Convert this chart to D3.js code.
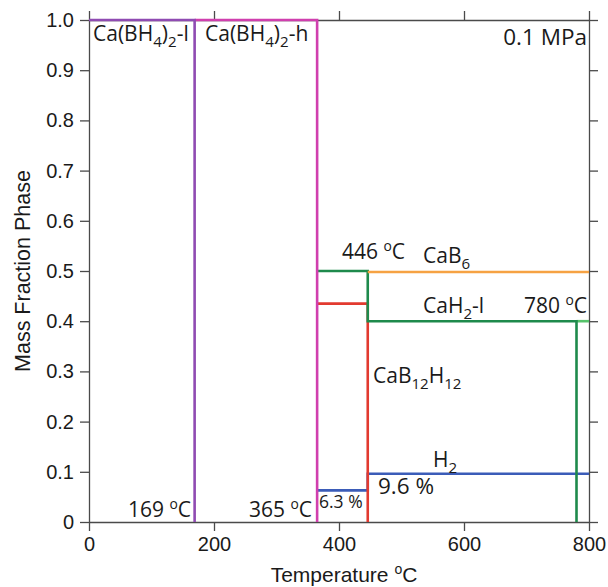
<!DOCTYPE html>
<html>
<head>
<meta charset="utf-8">
<script src="https://cdn.jsdelivr.net/npm/d3@7"></script>
<style>
  html, body { margin: 0; padding: 0; background: #fff; }
  svg { display: block; }
</style>
</head>
<body>
<svg id="chart" width="608" height="587"></svg>
<script>
// ---------------- data ----------------
const tempTicks = [0, 200, 400, 600, 800];
const fracTicks = [0, 0.1, 0.2, 0.3, 0.4, 0.5, 0.6, 0.7, 0.8, 0.9, 1.0];

// Ca(BH4)2-l phase (low temperature)
const lowTemp = [0, 169, 169];
const lowFrac = [1.0, 1.0, 0];
// Ca(BH4)2-h phase (high temperature)
const highTemp = [169, 365, 365];
const highFrac = [1.0, 1.0, 0];
// CaH2-l
const cah2Temp = [365, 446, 446, 780, 780];
const cah2Frac = [0.5, 0.5, 0.4, 0.4, 0];
const cah2TailTemp = [780, 800];
const cah2TailFrac = [0.4, 0.4];
// CaB12H12
const cab12Temp = [365, 446, 446];
const cab12Frac = [0.435, 0.435, 0];
// CaB6
const cab6Temp = [446, 800];
const cab6Frac = [0.498, 0.498];
// H2 released
const h2Temp = [365, 446, 446, 800];
const h2Frac = [0.063, 0.063, 0.096, 0.096];

// ---------------- layout ----------------
const W = 608, H = 587;
const m = { left: 89, right: 19, top: 20, bottom: 65 };
const svg = d3.select("#chart");
const x = d3.scaleLinear().domain([0, 800]).range([m.left, W - m.right]);
const y = d3.scaleLinear().domain([0, 1]).range([H - m.bottom, m.top]);

const axisColor = "#4a4a4a";
const tickFont = "'Liberation Sans', Arial, Helvetica, sans-serif";
const annFont = "'Open Sans', 'Noto Sans', sans-serif";

// axes
const gB = svg.append("g").attr("transform", `translate(0,${y(0)})`)
  .call(d3.axisBottom(x).tickValues(tempTicks).tickSize(9).tickPadding(6).tickSizeOuter(0));
const gT = svg.append("g").attr("transform", `translate(0,${y(1)})`)
  .call(d3.axisTop(x).tickValues(tempTicks).tickSize(9).tickFormat("").tickSizeOuter(0));
const gL = svg.append("g").attr("transform", `translate(${x(0)},0)`)
  .call(d3.axisLeft(y).tickValues(fracTicks).tickSize(9).tickPadding(6).tickSizeOuter(0)
    .tickFormat(d => d === 0 ? "0" : d3.format(".1f")(d)));
const gR = svg.append("g").attr("transform", `translate(${x(800)},0)`)
  .call(d3.axisRight(y).tickValues(fracTicks).tickSize(9).tickFormat("").tickSizeOuter(0));

[gB, gT, gL, gR].forEach(g => {
  g.selectAll("path.domain").attr("stroke", axisColor).attr("stroke-width", 1.3);
  g.selectAll(".tick line").attr("stroke", axisColor).attr("stroke-width", 1.3);
  g.selectAll(".tick text").attr("fill", "#1a1a1a").style("font-family", tickFont).style("font-size", "20px");
});

// axis titles
const xt = svg.append("text")
  .attr("x", 344).attr("y", 582)
  .attr("text-anchor", "middle")
  .style("font-family", tickFont).style("font-size", "21px").attr("fill", "#1a1a1a");
xt.append("tspan").text("Temperature ");
xt.append("tspan").text("o").style("font-size", "14px").attr("dy", "-8");
xt.append("tspan").text("C").attr("dy", "8");

svg.append("text")
  .attr("transform", `translate(30,${y(0.5)}) rotate(-90)`)
  .attr("text-anchor", "middle")
  .style("font-family", tickFont).style("font-size", "21.5px").attr("fill", "#1a1a1a")
  .text("Mass Fraction Phase");

// ---------------- lines ----------------
const line = d3.line().x(d => x(d[0])).y(d => y(d[1]));
function drawStep(temps, fracs, color, w) {
  svg.append("path")
    .datum(temps.map((t, i) => [t, fracs[i]]))
    .attr("d", line)
    .attr("fill", "none")
    .attr("stroke", color)
    .attr("stroke-width", w || 2.6)
    .attr("stroke-linejoin", "miter")
    .attr("stroke-linecap", "butt");
}
drawStep(h2Temp, h2Frac, "#3b5cb8");
drawStep(cab12Temp, cab12Frac, "#e23a2f");
drawStep(cah2TailTemp, cah2TailFrac, "#56c26a");
drawStep(cah2Temp, cah2Frac, "#1e8a4c");
drawStep(cab6Temp, cab6Frac, "#f6a243");
drawStep(highTemp, highFrac, "#d03fae");
drawStep(lowTemp, lowFrac, "#8f4bb2");

// ---------------- annotations ----------------
function label(px, py, parts, opts) {
  opts = opts || {};
  const fs = opts.size || 21;
  const t = svg.append("text")
    .attr("x", px).attr("y", py)
    .attr("text-anchor", opts.anchor || "start")
    .style("font-family", annFont)
    .style("font-size", fs + "px")
    .attr("fill", "#1a1a1a");
  let shift = 0;
  parts.forEach(p => {
    const s = t.append("tspan").text(p[0]);
    let target = 0;
    if (p[1] === "sub") { target = fs * 0.3; s.style("font-size", (fs * 0.72) + "px"); }
    else if (p[1] === "sup") { target = -fs * 0.4; s.style("font-size", (fs * 0.66) + "px"); }
    if (target !== shift) { s.attr("dy", target - shift); shift = target; }
  });
  return t;
}

label(93, 41, [["Ca(BH"], ["4", "sub"], [")"], ["2", "sub"], ["-l"]]);
label(205, 41, [["Ca(BH"], ["4", "sub"], [")"], ["2", "sub"], ["-h"]]);
label(587, 45, [["0.1 MPa"]], { anchor: "end", size: 22.5 });
label(342, 259, [["446 "], ["o", "sup"], ["C"]]);
label(423, 263, [["CaB"], ["6", "sub"]]);
label(423, 313, [["CaH"], ["2", "sub"], ["-l"]]);
label(587, 313, [["780 "], ["o", "sup"], ["C"]], { anchor: "end" });
label(373, 383, [["CaB"], ["12", "sub"], ["H"], ["12", "sub"]]);
label(433, 467, [["H"], ["2", "sub"]]);
label(378, 494, [["9.6 %"]], { size: 22.5 });
label(319, 508, [["6.3 %"]], { size: 17.5 });
label(191, 517, [["169 "], ["o", "sup"], ["C"]], { anchor: "end" });
label(312, 517, [["365 "], ["o", "sup"], ["C"]], { anchor: "end" });
</script>
</body>
</html>
